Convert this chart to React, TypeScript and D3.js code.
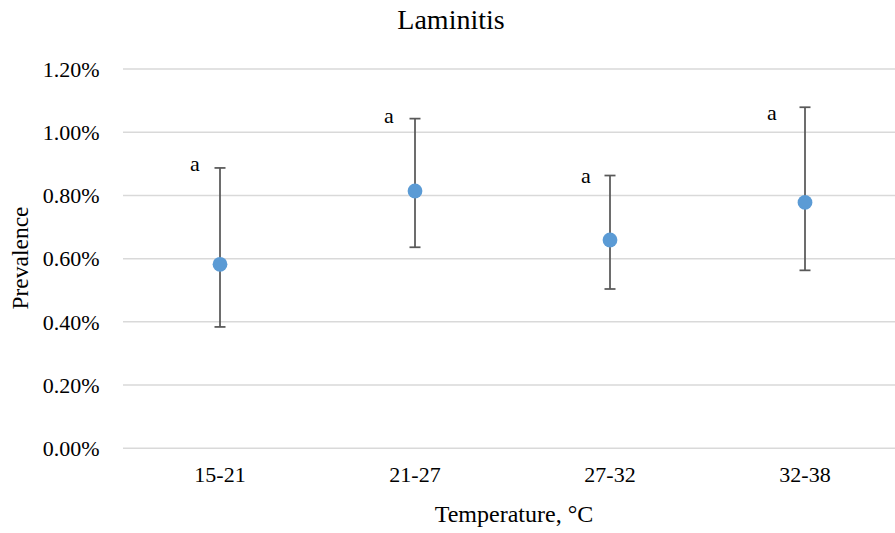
import React from "react";
import * as d3 from "d3";

const categories = ["15-21", "21-27", "27-32", "32-38"];
const prevalence = [0.582, 0.814, 0.659, 0.778];
const errorLow = [0.384, 0.636, 0.504, 0.563];
const errorHigh = [0.887, 1.043, 0.863, 1.079];
const letters = ["a", "a", "a", "a"];
const yTicks = [0, 0.2, 0.4, 0.6, 0.8, 1.0, 1.2];

const labelDx = [-25, -26, -24, -33];
const labelDy = [3, 4, 7, 13];

const W = 895;
const H = 533;
const TXT = { fontFamily: "Liberation Serif" };

export default function App() {
  const x = d3.scaleBand<string>().domain(categories).range([122.5, 902.5]);
  const y = d3.scaleLinear().domain([0, 1.2]).range([448.3, 69]);
  const cx = (c: string) => (x(c) as number) + x.bandwidth() / 2;
  return (
    <svg
      width={W}
      height={H}
      style={{ position: "absolute", left: 0, top: 0, background: "#fff" }}
    >
      <text x={451} y={28.5} textAnchor="middle" fontSize={28} fill="#000" style={TXT}>
        Laminitis
      </text>
      {yTicks.map((t) => (
        <g key={t}>
          <line x1={123} x2={W} y1={y(t)} y2={y(t)} stroke="#d9d9d9" strokeWidth={1.5} />
          <text x={99.5} y={y(t)} dy="0.35em" textAnchor="end" fontSize={22} fill="#000" style={TXT}>
            {d3.format(".2f")(t) + "%"}
          </text>
        </g>
      ))}
      {categories.map((c) => (
        <text key={c} x={cx(c)} y={482} textAnchor="middle" fontSize={22} fill="#000" style={TXT}>
          {c}
        </text>
      ))}
      <text x={514} y={522} textAnchor="middle" fontSize={24} fill="#000" style={TXT}>
        Temperature, °C
      </text>
      <text
        transform={`translate(28,258) rotate(-90)`}
        textAnchor="middle"
        fontSize={23.5}
        fill="#000"
        style={TXT}
      >
        Prevalence
      </text>
      {categories.map((c, i) => {
        const px = cx(c);
        return (
          <g key={c}>
            <line x1={px} x2={px} y1={y(errorLow[i])} y2={y(errorHigh[i])} stroke="#595959" strokeWidth={1.75} />
            <line x1={px - 5.5} x2={px + 5.5} y1={y(errorLow[i])} y2={y(errorLow[i])} stroke="#595959" strokeWidth={1.75} />
            <line x1={px - 5.5} x2={px + 5.5} y1={y(errorHigh[i])} y2={y(errorHigh[i])} stroke="#595959" strokeWidth={1.75} />
            <circle cx={px} cy={y(prevalence[i])} r={7.4} fill="#5b9bd5" />
            <text x={px + labelDx[i]} y={y(errorHigh[i]) + labelDy[i]} textAnchor="middle" fontSize={22} fill="#000" style={TXT}>
              {letters[i]}
            </text>
          </g>
        );
      })}
    </svg>
  );
}
